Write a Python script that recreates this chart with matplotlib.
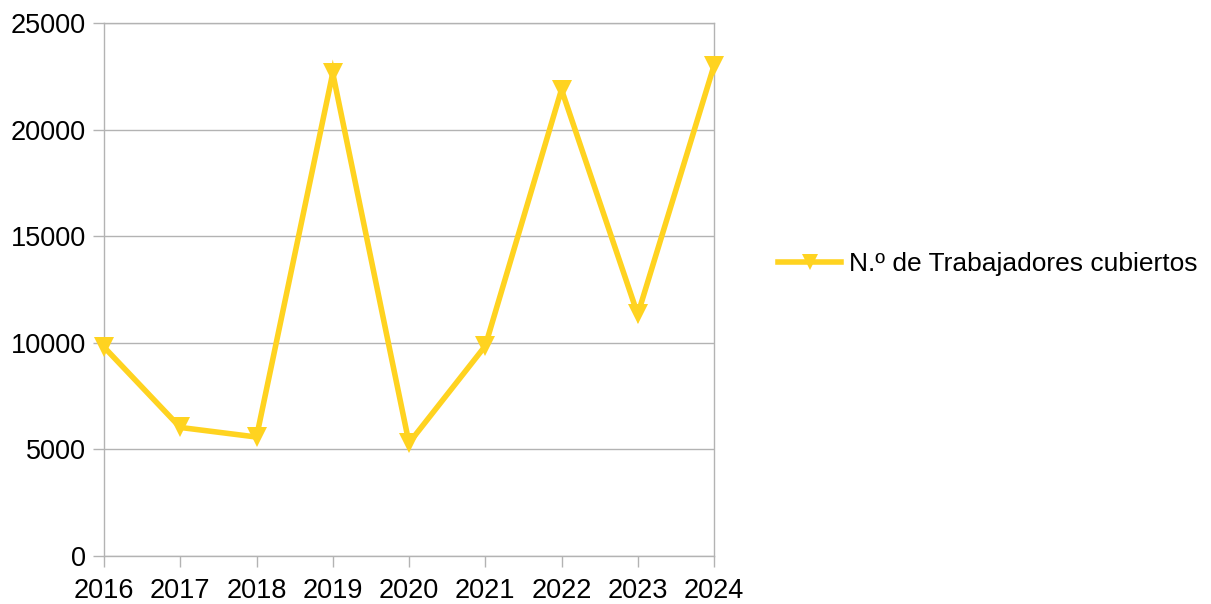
import matplotlib.pyplot as plt
from matplotlib.lines import Line2D

plt.rcParams['font.family'] = ['Liberation Sans', 'DejaVu Sans']

years = [2016, 2017, 2018, 2019, 2020, 2021, 2022, 2023, 2024]
workers = [9800, 6030, 5580, 22650, 5300, 9850, 21880, 11330, 23000]
series_label = "N.º de Trabajadores cubiertos"
y_ticks = [0, 5000, 10000, 15000, 20000, 25000]

color = "#ffd320"
grid_c = "#b3b3b3"

W, H = 1211, 604
fig = plt.figure(figsize=(W / 100, H / 100), dpi=100)
ax = fig.add_axes([104 / W, 1 - 556 / H, (714 - 104) / W, (556 - 23) / H])

ax.plot(years, workers, color=color, lw=4, marker="v", ms=14,
        markeredgewidth=0, solid_joinstyle="miter", clip_on=False, zorder=3)

ax.set_xlim(years[0], years[-1])
ax.set_ylim(0, 25000)
ax.set_xticks(years)
ax.set_yticks(y_ticks)
ax.grid(axis="y", color=grid_c, lw=1)
ax.set_axisbelow(True)
for s in ax.spines.values():
    s.set_color(grid_c)
    s.set_linewidth(1)
ax.tick_params(axis="both", colors=grid_c, labelcolor="black", labelsize=19.5,
               length=8, width=1, direction="out")
ax.tick_params(axis="x", pad=8)
ax.tick_params(axis="y", pad=5)

handle = Line2D([], [], color=color, lw=4, marker="v", ms=11, markeredgewidth=0)
fig.legend([handle], [series_label], loc="center left",
           bbox_to_anchor=(778 / W, 1 - 264 / H), frameon=False,
           fontsize=19, handlelength=2.4, handletextpad=0.3, borderpad=0,
           borderaxespad=0)

fig.savefig("out.png", dpi=100)
